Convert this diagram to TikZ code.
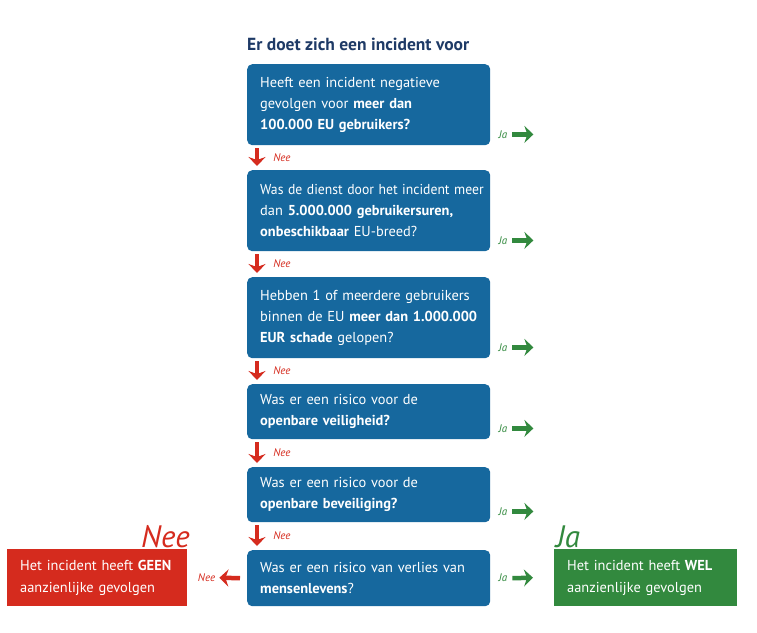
\documentclass[tikz,border=0pt]{standalone}
\usepackage{graphicx}
\usepackage{fontspec}
\setmainfont{PT Sans}
\usetikzlibrary{positioning,arrows.meta}

\definecolor{vraagblauw}{HTML}{16689E}
\definecolor{titelblauw}{HTML}{1E3A66}
\definecolor{neerood}{HTML}{D52B1E}
\definecolor{jagroen}{HTML}{32893E}

\begin{document}
\begin{tikzpicture}[x=1pt,y=-1pt,
  vraag/.style={rectangle,rounded corners=5pt,fill=vraagblauw,text=white,
                anchor=north west,text width=217pt,inner xsep=13pt,inner ysep=0pt,
                minimum width=243pt,align=left,
                font=\fontsize{14.4}{21}\selectfont},
  uitkomst/.style={rectangle,text=white,anchor=north west,inner xsep=13pt,
                   inner ysep=0pt,minimum height=57pt,align=left,
                   font=\fontsize{14.4}{22}\selectfont},
  neepijl/.style={-{Stealth[length=9pt,width=17pt,inset=3pt]},line width=4.5pt,
                  neerood},
  japijl/.style={-{Stealth[length=9pt,width=17pt,inset=3pt]},line width=4.5pt,
                 jagroen},
  neelabel/.style={text=neerood,inner sep=0pt,font=\fontsize{11}{13}\selectfont\itshape},
  jalabel/.style={text=jagroen,inner sep=0pt,font=\fontsize{11}{13}\selectfont\itshape},
  grootlabel/.style={inner sep=0pt,font=\fontsize{31}{36}\selectfont\itshape}]

\useasboundingbox (0,0) rectangle (757,632);

% ============ titel ============
\node[anchor=west,inner sep=0pt,text=titelblauw,font=\fontsize{17.5}{20}\selectfont\bfseries]
  (titel) at (247,44) {Er doet zich een incident voor};

% ============ vragen ============
\node[vraag,minimum height=81pt] (q1) at (247,64)
  {Heeft een incident negatieve\\gevolgen voor \textbf{meer dan}\\\textbf{100.000 EU gebruikers?}};
\node[vraag,minimum height=81pt] (q2) at (247,170)
  {\scalebox{0.95}[1]{Was de dienst door het incident meer}\\\mbox{dan \textbf{5.000.000 gebruikersuren,}}\\\textbf{onbeschikbaar} EU-breed?};
\node[vraag,minimum height=81pt] (q3) at (247,277)
  {Hebben 1 of meerdere gebruikers\\\mbox{binnen de EU \textbf{meer dan 1.000.000}}\\\textbf{EUR schade} gelopen?};
\node[vraag,minimum height=55pt] (q4) at (247,384)
  {Was er een risico voor de\\\textbf{openbare veiligheid?}};
\node[vraag,minimum height=55pt] (q5) at (247,467)
  {Was er een risico voor de\\\textbf{openbare beveiliging?}};
\node[vraag,minimum height=56pt] (q6) at (247,550)
  {\mbox{Was er een risico van verlies van}\\\textbf{mensenlevens}?};

% ============ uitkomsten ============
\node[uitkomst,fill=neerood,text width=154pt,minimum width=180pt] (geen) at (7,549)
  {\mbox{Het incident heeft \textbf{GEEN}}\\aanzienlijke gevolgen};
\node[uitkomst,fill=jagroen,text width=157pt,minimum width=183pt] (wel) at (554,549)
  {\mbox{Het incident heeft \textbf{WEL}}\\aanzienlijke gevolgen};
\node[grootlabel,text=neerood,anchor=base east] (grootnee) at (190,547) {Nee};
\node[grootlabel,text=jagroen,anchor=base west] (grootja) at (556,547) {Ja};

% ============ Nee: omlaag ============
\foreach \boven/\onder in {q1/q2,q2/q3,q3/q4,q4/q5,q5/q6}{
  \draw[neepijl] ([xshift=10,yshift=-3]\boven.south west) --
    node[neelabel,right=14pt] {Nee} ([xshift=10,yshift=4]\onder.north west);
}

% ============ Ja: naar rechts ============
\foreach \v in {q1,q2,q3,q4,q5}{
  \draw[japijl] ([xshift=22,yshift=11]\v.south east)
    node[jalabel,left=3pt] {Ja} -- ([xshift=43,yshift=11]\v.south east);
}
\draw[japijl] ([xshift=22]q6.east) node[jalabel,left=3pt] {Ja} -- ([xshift=-21]wel.west);

% ============ laatste Nee ============
\draw[neepijl] ([xshift=-7]q6.west) -- ([xshift=32]geen.east);
\node[neelabel,anchor=east] (laatstenee) at ([xshift=28]geen.east) {Nee};

\end{tikzpicture}
\end{document}
